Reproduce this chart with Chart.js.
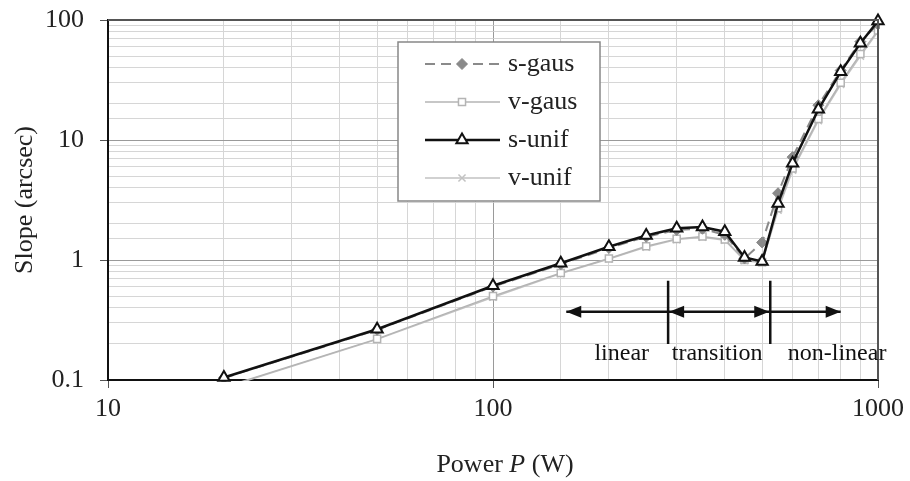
<!DOCTYPE html>
<html>
<head>
<meta charset="utf-8">
<script src="https://cdn.jsdelivr.net/npm/chart.js@4.4.0/dist/chart.umd.min.js"></script>
<style>
    html, body { margin: 0; padding: 0; background: #fff; }
    #wrap { width: 910px; height: 481px; }
</style>
</head>
<body>
<div id="wrap"><canvas id="slopeChart" width="910" height="481"></canvas></div>
<script>
// values
const power = [20, 50, 100, 150, 200, 250, 300, 350, 400, 450, 500, 550, 600, 700, 800, 900, 1000];
const sGaus = [0.104, 0.262, 0.6, 0.92, 1.26, 1.56, 1.78, 1.82, 1.62, 1.03, 1.4, 3.6, 7.2, 19.5, 38, 66, 92];
const vGaus = [0.087, 0.22, 0.5, 0.78, 1.03, 1.3, 1.5, 1.57, 1.48, 1.0, 0.96, 2.7, 5.8, 15, 30, 52, 82];
const sUnif = [0.105, 0.265, 0.61, 0.94, 1.29, 1.6, 1.84, 1.88, 1.72, 1.05, 0.97, 2.95, 6.4, 18, 37, 64, 98];
const vUnif = [0.086, 0.218, 0.49, 0.77, 1.02, 1.28, 1.48, 1.55, 1.46, 0.99, 0.95, 2.6, 5.6, 14.5, 29, 50, 80];

const xTicks = [10, 100, 1000];
const yTicks = [0.1, 1, 10, 100];

// regime markers (data units)
const regimeBounds = [285, 525];
const regimeArrowEnds = [155, 800];
const regimeLabels = ['linear', 'transition', 'non-linear'];
const regimeLabelX = [216, 382, 783];

const serif = '"Liberation Serif", "Times New Roman", serif';

const isDecade = (v) => Math.abs(Math.log10(v) - Math.round(Math.log10(v))) < 1e-6;

const toPairs = (ys) => power.map((p, i) => ({ x: p, y: ys[i] }));

const frameAndExtras = {
    id: 'frameAndExtras',
    afterDatasetsDraw(chart) {
        const { ctx, chartArea: a, scales } = chart;
        const xs = scales.x, ys = scales.y;

        // top / right frame
        ctx.save();
        ctx.strokeStyle = '#555';
        ctx.lineWidth = 2;
        ctx.beginPath();
        ctx.moveTo(a.left, a.top);
        ctx.lineTo(a.right, a.top);
        ctx.lineTo(a.right, a.bottom);
        ctx.stroke();
        ctx.restore();

        // arrows and regime boundaries
        const ay = ys.getPixelForValue(0.37);
        const b1 = xs.getPixelForValue(regimeBounds[0]);
        const b2 = xs.getPixelForValue(regimeBounds[1]);
        const l = xs.getPixelForValue(regimeArrowEnds[0]);
        const r = xs.getPixelForValue(regimeArrowEnds[1]);

        ctx.save();
        ctx.strokeStyle = '#111';
        ctx.fillStyle = '#111';
        ctx.lineWidth = 2.5;
        ctx.beginPath();
        ctx.moveTo(l, ay);
        ctx.lineTo(r, ay);
        ctx.stroke();

        const head = (x, dir) => {
            ctx.beginPath();
            ctx.moveTo(x, ay);
            ctx.lineTo(x - dir * 15, ay - 6);
            ctx.lineTo(x - dir * 15, ay + 6);
            ctx.closePath();
            ctx.fill();
        };
        head(l, -1);
        head(b1 + 1, -1);
        head(b2 - 1, 1);
        head(r, 1);

        const top = ys.getPixelForValue(0.67);
        const bot = ys.getPixelForValue(0.2);
        ctx.beginPath();
        ctx.moveTo(b1, top); ctx.lineTo(b1, bot);
        ctx.moveTo(b2, top); ctx.lineTo(b2, bot);
        ctx.stroke();

        ctx.font = '24px ' + serif;
        ctx.textAlign = 'center';
        ctx.textBaseline = 'middle';
        const ty = ys.getPixelForValue(0.165);
        regimeLabels.forEach((t, i) => {
            ctx.fillText(t, xs.getPixelForValue(regimeLabelX[i]), ty);
        });
        ctx.restore();

        // legend box inside the plot
        const lx = a.left + 290, ly = a.top + 22, lw = 202, lh = 159;
        ctx.save();
        ctx.fillStyle = '#fff';
        ctx.fillRect(lx, ly, lw, lh);
        ctx.strokeStyle = '#888';
        ctx.lineWidth = 1.5;
        ctx.strokeRect(lx, ly, lw, lh);

        const order = [0, 1, 2, 3];
        order.forEach((di, i) => {
            const ds = chart.data.datasets[di];
            const cy = ly + 22 + i * 38;
            ctx.save();
            ctx.strokeStyle = ds.borderColor;
            ctx.lineWidth = ds.borderWidth;
            ctx.setLineDash(ds.borderDash || []);
            ctx.beginPath();
            ctx.moveTo(lx + 27, cy);
            ctx.lineTo(lx + 102, cy);
            ctx.stroke();
            ctx.setLineDash([]);
            ctx.fillStyle = ds.pointBackgroundColor;
            ctx.strokeStyle = ds.pointBorderColor;
            ctx.lineWidth = ds.pointBorderWidth;
            Chart.helpers.drawPoint(ctx, {
                pointStyle: ds.pointStyle,
                radius: ds.pointRadius,
                rotation: 0,
                borderWidth: ds.pointBorderWidth
            }, lx + 64, cy);
            ctx.restore();

            ctx.fillStyle = '#222';
            ctx.font = '26px ' + serif;
            ctx.textAlign = 'left';
            ctx.textBaseline = 'middle';
            ctx.fillText(ds.label, lx + 110, cy);
        });
        ctx.restore();

        // x axis title with italic P
        ctx.save();
        ctx.fillStyle = '#222';
        ctx.textBaseline = 'middle';
        const parts = [['Power ', '26px ' + serif], ['P', 'italic 26px ' + serif], [' (W)', '26px ' + serif]];
        let total = 0;
        parts.forEach(([t, f]) => { ctx.font = f; total += ctx.measureText(t).width; });
        let px = (a.left + a.right) / 2 + 12 - total / 2;
        parts.forEach(([t, f]) => {
            ctx.font = f;
            ctx.fillText(t, px, 465);
            px += ctx.measureText(t).width;
        });
        ctx.restore();
    }
};

const gridColor = (c) => (c.tick && isDecade(c.tick.value) ? '#9a9a9a' : '#d6d6d6');
const tickMarkColor = (c) => (c.tick && isDecade(c.tick.value) ? '#555' : 'rgba(0,0,0,0)');

new Chart(document.getElementById('slopeChart').getContext('2d'), {
    type: 'line',
    data: {
        datasets: [
            {
                label: 's-gaus',
                data: toPairs(sGaus),
                borderColor: '#8a8a8a',
                borderWidth: 2,
                borderDash: [10, 6],
                pointStyle: 'rectRot',
                pointRadius: 5.5,
                pointBackgroundColor: '#8a8a8a',
                pointBorderColor: '#8a8a8a',
                pointBorderWidth: 1,
                order: 1,
                clip: 2
            },
            {
                label: 'v-gaus',
                data: toPairs(vGaus),
                borderColor: '#b4b4b4',
                borderWidth: 1.5,
                pointStyle: 'rect',
                pointRadius: 5,
                pointBackgroundColor: '#fff',
                pointBorderColor: '#b4b4b4',
                pointBorderWidth: 1.5,
                order: 2,
                clip: 1
            },
            {
                label: 's-unif',
                data: toPairs(sUnif),
                borderColor: '#111',
                borderWidth: 2.5,
                pointStyle: 'triangle',
                pointRadius: 6.5,
                pointBackgroundColor: '#fff',
                pointBorderColor: '#111',
                pointBorderWidth: 2,
                order: 0,
                clip: 10
            },
            {
                label: 'v-unif',
                data: toPairs(vUnif),
                borderColor: '#c2c2c2',
                borderWidth: 1.5,
                pointStyle: 'crossRot',
                pointRadius: 5,
                pointBackgroundColor: '#c2c2c2',
                pointBorderColor: '#c2c2c2',
                pointBorderWidth: 1.5,
                order: 3,
                clip: 1
            }
        ]
    },
    options: {
        responsive: false,
        animation: false,
        layout: { padding: { top: 20, right: 32, left: 0, bottom: 0 } },
        plugins: {
            legend: { display: false },
            tooltip: { enabled: false }
        },
        elements: { line: { tension: 0 } },
        scales: {
            x: {
                type: 'logarithmic',
                min: 10,
                max: 1000,
                afterFit: (s) => { s.height = 101; s.paddingLeft = 0; s.paddingRight = 0; },
                border: { color: '#111', width: 2 },
                grid: { color: gridColor, tickColor: tickMarkColor, tickLength: 8, lineWidth: 1 },
                ticks: {
                    autoSkip: false,
                    maxRotation: 0,
                    padding: 6,
                    color: '#222',
                    font: { family: serif, size: 26 },
                    callback: (v) => (xTicks.includes(v) ? String(v) : '')
                }
            },
            y: {
                type: 'logarithmic',
                min: 0.1,
                max: 100,
                afterFit: (s) => { s.width = 108; s.paddingTop = 0; s.paddingBottom = 0; },
                border: { color: '#111', width: 2 },
                grid: { color: gridColor, tickColor: tickMarkColor, tickLength: 8, lineWidth: 1 },
                title: {
                    display: true,
                    text: 'Slope (arcsec)',
                    color: '#222',
                    font: { family: serif, size: 26 },
                    padding: { top: 10, bottom: 0 }
                },
                ticks: {
                    autoSkip: false,
                    padding: 16,
                    color: '#222',
                    font: { family: serif, size: 26 },
                    callback: (v) => (yTicks.some(t => Math.abs(t - v) < 1e-9) ? String(v) : '')
                }
            }
        }
    },
    plugins: [frameAndExtras]
});
</script>
</body>
</html>
